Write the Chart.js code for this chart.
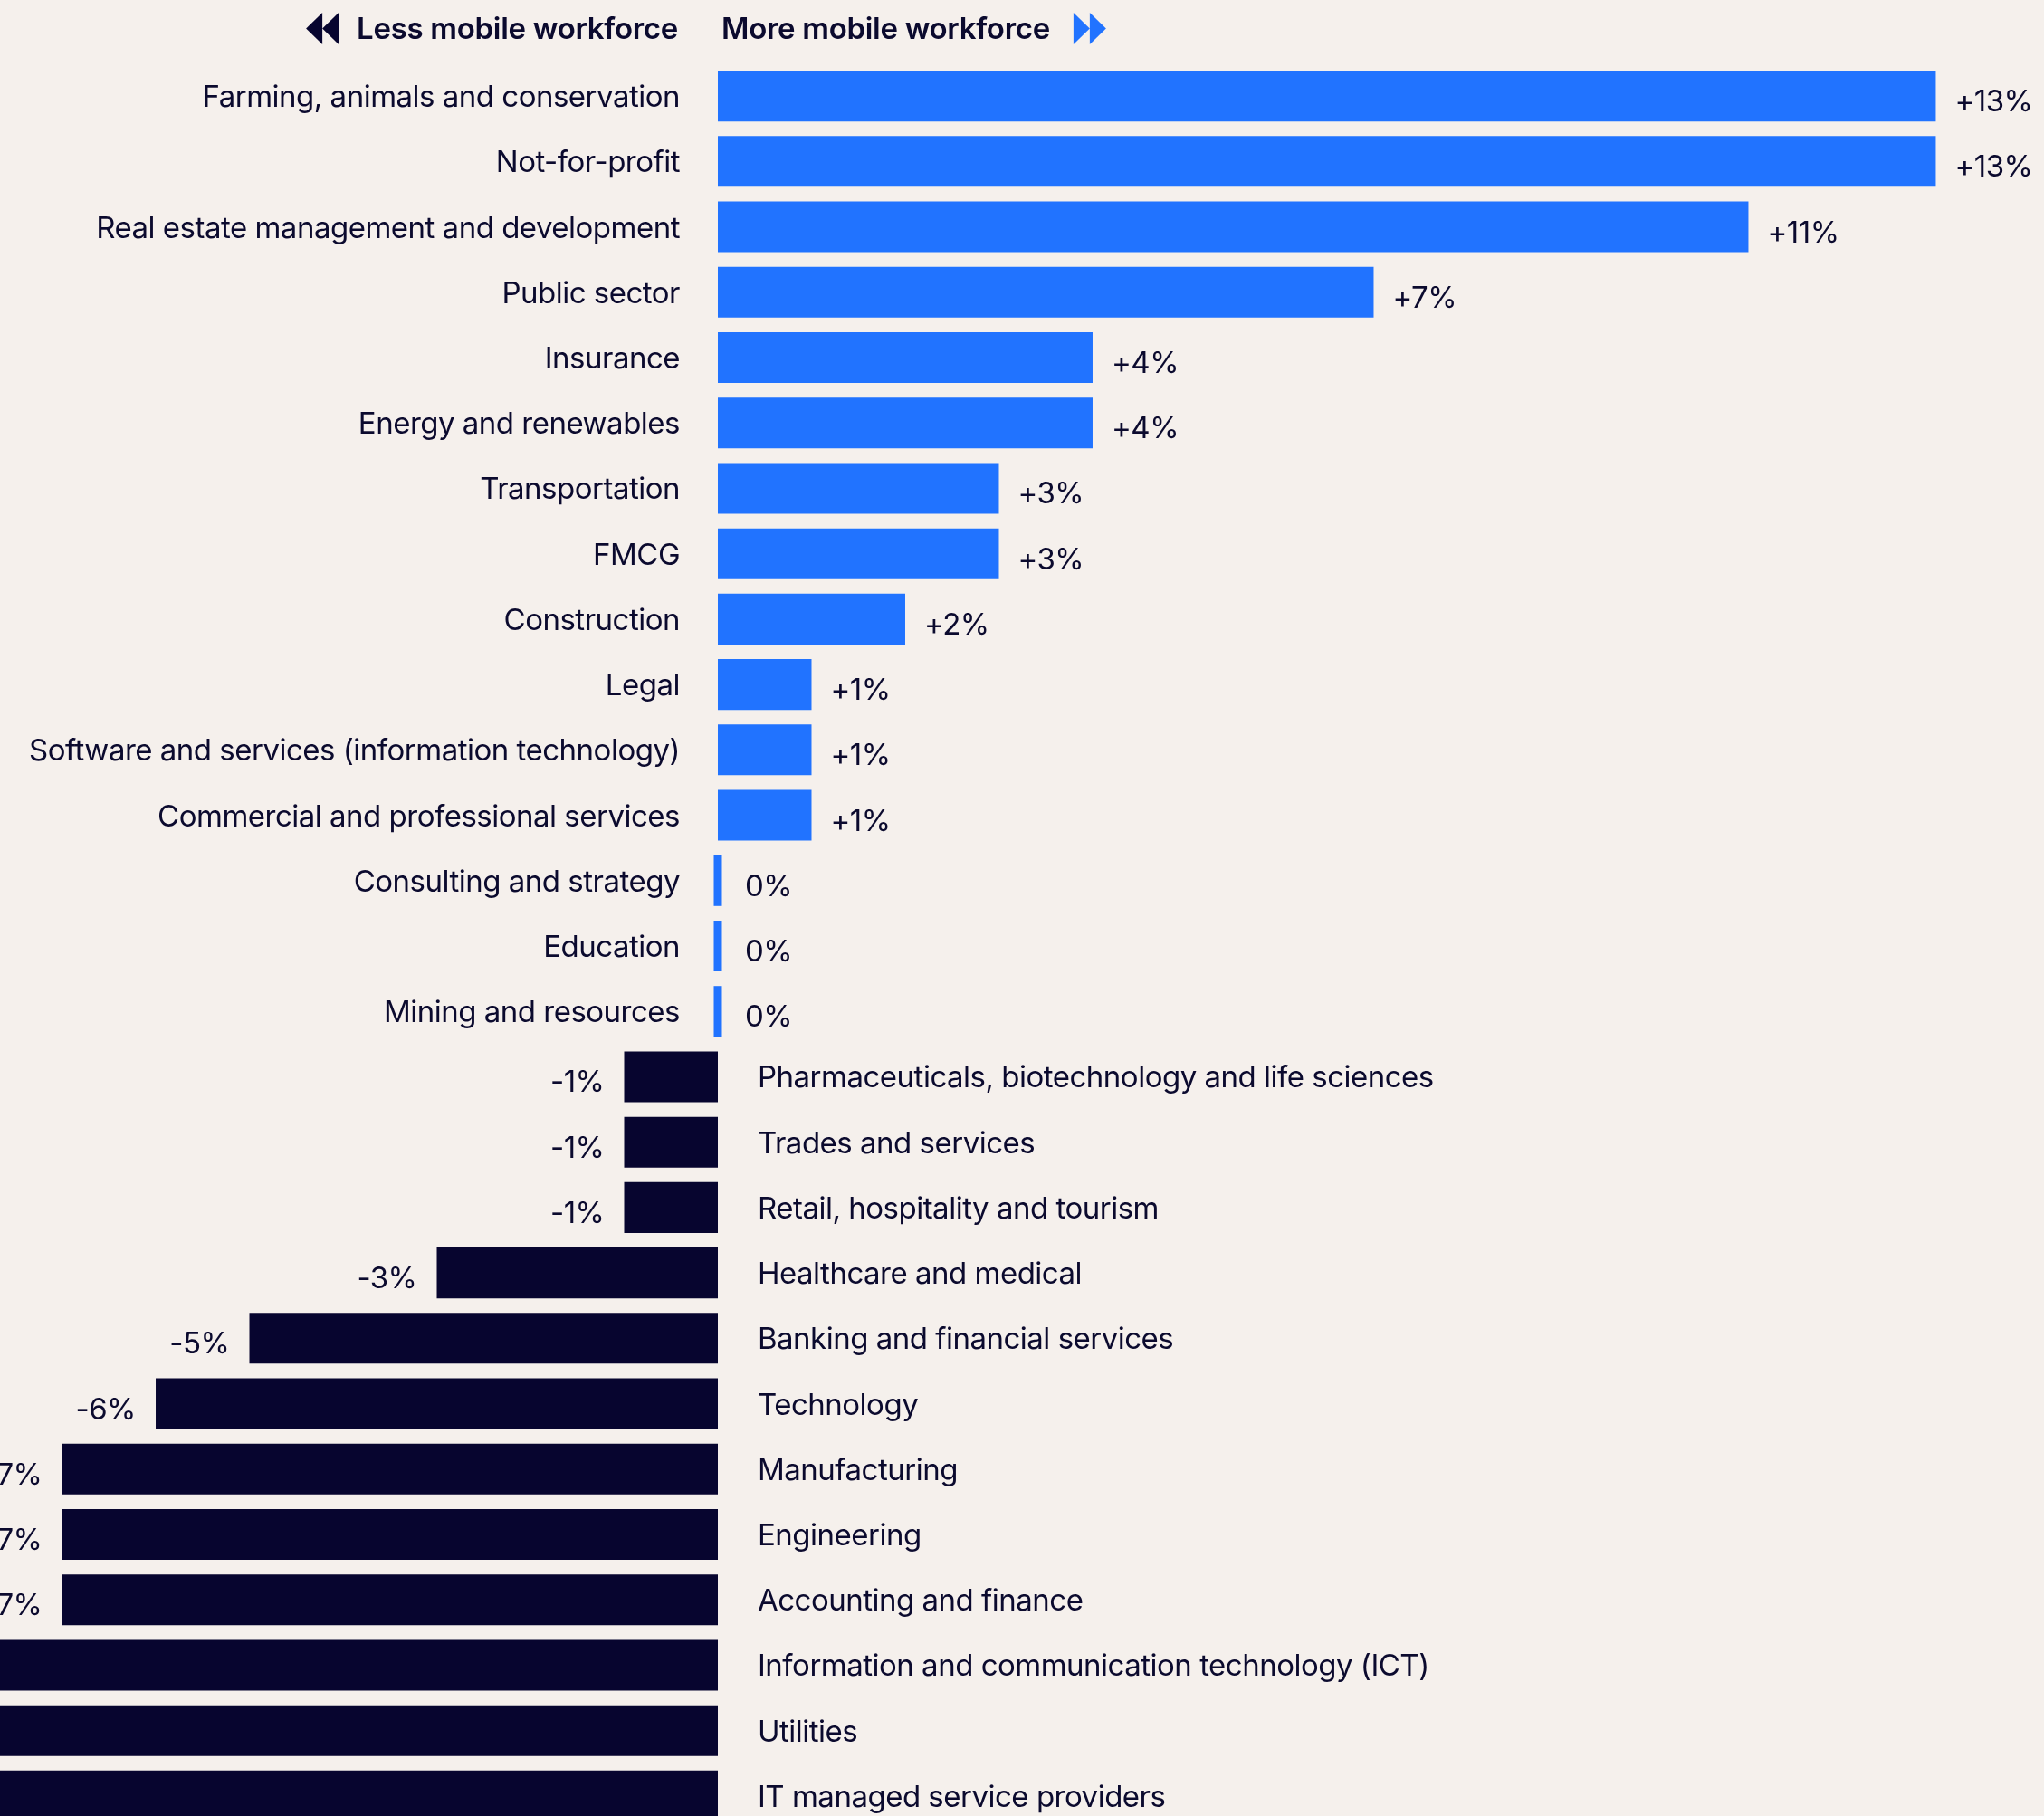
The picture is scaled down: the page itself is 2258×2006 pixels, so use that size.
<!DOCTYPE html>
<html>
<head>
<meta charset="utf-8">
<title>Workforce mobility by industry</title>
<script src="https://cdn.jsdelivr.net/npm/chart.js@4.4.1/dist/chart.umd.min.js"></script>
<style>
  html, body { margin: 0; padding: 0; background: #f5f0ec; overflow: hidden; }
  canvas { display: block; }
</style>
</head>
<body>
<canvas id="chart" width="2258" height="2020"></canvas>
<script>
// Change in workforce mobility by industry, percentage points
const industries = [
  'Farming, animals and conservation',
  'Not-for-profit',
  'Real estate management and development',
  'Public sector',
  'Insurance',
  'Energy and renewables',
  'Transportation',
  'FMCG',
  'Construction',
  'Legal',
  'Software and services (information technology)',
  'Commercial and professional services',
  'Consulting and strategy',
  'Education',
  'Mining and resources',
  'Pharmaceuticals, biotechnology and life sciences',
  'Trades and services',
  'Retail, hospitality and tourism',
  'Healthcare and medical',
  'Banking and financial services',
  'Technology',
  'Manufacturing',
  'Engineering',
  'Accounting and finance',
  'Information and communication technology (ICT)',
  'Utilities',
  'IT managed service providers'
];
const mobilityChange = [13, 13, 11, 7, 4, 4, 3, 3, 2, 1, 1, 1, 0, 0, 0, -1, -1, -1, -3, -5, -6, -7, -7, -7, -8, -9, -10];
const headerLess = 'Less mobile workforce';
const headerMore = 'More mobile workforce';

const BLUE = '#2173ff';
const NAVY = '#07052f';
const INK = '#0b0a2e';
const FONT = 'Inter, "Noto Sans", sans-serif';
const MIN_BAR = 9;

function formatChange(v) {
  return v > 0 ? '+' + v + '%' : v + '%';
}

// two stacked triangles, pointing left (dir -1) or right (dir 1)
function doubleArrow(ctx, x, cy, dir, color) {
  const w = 18, h = 35;
  ctx.fillStyle = color;
  for (let k = 0; k < 2; k++) {
    const back = dir > 0 ? x + k * w : x + 2 * w - k * w;
    const tip = back + dir * w;
    ctx.beginPath();
    ctx.moveTo(back, cy - h / 2);
    ctx.lineTo(tip, cy);
    ctx.lineTo(back, cy + h / 2);
    ctx.closePath();
    ctx.fill();
  }
}

const sideLabels = {
  id: 'sideLabels',
  afterDatasetsDraw(chart) {
    const ctx = chart.ctx;
    const xs = chart.scales.x;
    const ys = chart.scales.y;
    const zero = xs.getPixelForValue(0);
    const bars = chart.getDatasetMeta(0).data;

    ctx.save();
    ctx.fillStyle = INK;
    ctx.textBaseline = 'alphabetic';
    ctx.font = '400 33px ' + FONT;
    ctx.letterSpacing = '-0.5px';
    industries.forEach((name, i) => {
      const v = mobilityChange[i];
      const cy = ys.getPixelForValue(i);
      const bar = bars[i];
      const left = Math.min(bar.x, bar.base);
      const right = Math.max(bar.x, bar.base, zero + MIN_BAR);
      if (v >= 0) {
        ctx.textAlign = 'right';
        ctx.fillText(name, zero - 42, cy + 12);
        ctx.textAlign = 'left';
        ctx.fillText(formatChange(v), right + 21, cy + 17);
      } else {
        ctx.textAlign = 'left';
        ctx.fillText(name, zero + 44, cy + 12);
        ctx.textAlign = 'right';
        ctx.fillText(formatChange(v), left - 22, cy + 17);
      }
    });

    // header above the bars
    ctx.font = '600 33px ' + FONT;
    ctx.letterSpacing = '-0.3px';
    const lessW = ctx.measureText(headerLess).width;
    const moreW = ctx.measureText(headerMore).width;
    ctx.textAlign = 'right';
    ctx.fillText(headerLess, zero - 44, 43);
    ctx.textAlign = 'left';
    ctx.fillText(headerMore, zero + 4, 43);
    doubleArrow(ctx, zero - 44 - lessW - 20 - 36, 31.5, -1, NAVY);
    doubleArrow(ctx, zero + 4 + moreW + 26, 31.5, 1, BLUE);
    ctx.restore();
  }
};

function draw() {
  new Chart(document.getElementById('chart'), {
    type: 'bar',
    data: {
      labels: industries,
      datasets: [{
        data: mobilityChange,
        backgroundColor: mobilityChange.map(v => v >= 0 ? BLUE : NAVY),
        borderWidth: 0,
        barPercentage: 0.776,
        categoryPercentage: 1,
        minBarLength: MIN_BAR
      }]
    },
    options: {
      indexAxis: 'y',
      responsive: false,
      animation: false,
      devicePixelRatio: 1,
      layout: { padding: { top: 70, left: 0, right: 0, bottom: 0 } },
      plugins: {
        legend: { display: false },
        tooltip: { enabled: false }
      },
      scales: {
        x: { display: false, min: -7.662, max: 14.155 },
        y: { display: false }
      }
    },
    plugins: [sideLabels]
  });
}

document.fonts.load('33px Inter').then(draw, draw);
</script>
</body>
</html>
